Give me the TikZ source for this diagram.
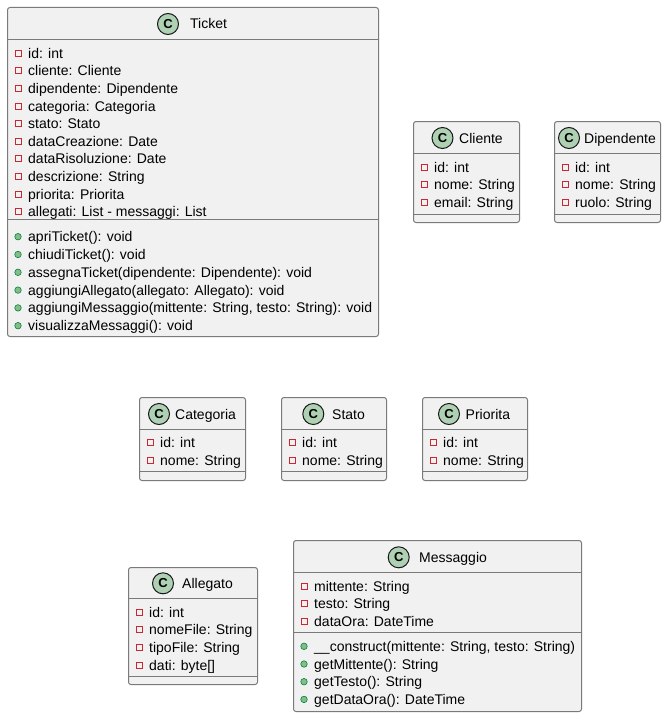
\documentclass[tikz,border=0pt]{standalone}
\usepackage{fontspec}
\setmainfont{Liberation Sans}
\definecolor{boxfill}{HTML}{F1F1F1}
\definecolor{boxline}{HTML}{7A7A7A}
\definecolor{spotfill}{HTML}{ADD1B2}
\definecolor{spotline}{HTML}{181818}
\definecolor{privred}{HTML}{C82930}
\definecolor{pubfill}{HTML}{84BE84}
\definecolor{publine}{HTML}{038048}
\tikzset{
  classbox/.style={draw=boxline, fill=boxfill, line width=1pt, rounded corners=2.5pt,
    anchor=north west, inner sep=0pt},
  sepline/.style={draw=boxline, line width=1pt},
  spot/.style={circle, draw=spotline, fill=spotfill, line width=1pt, minimum size=21pt,
    inner sep=0pt, font=\fontsize{13}{13}\selectfont\bfseries},
  rowtxt/.style={anchor=west, inner sep=0pt, text height=10pt, text depth=0pt,
    font=\fontsize{14}{16}\selectfont},
  privico/.style={draw=privred, line width=1pt, minimum size=6pt, inner sep=0pt},
  pubico/.style={circle, draw=publine, fill=pubfill, line width=0.6pt, minimum size=6.5pt, inner sep=0pt},
}
% attribute / method rows: name, left edge of class, y, text
\newcommand{\privrow}[4]{%
  \node[privico] (#1-i) at (#2+11,#3) {};
  \node[rowtxt] (#1) at (#2+21,#3) {#4};}
\newcommand{\pubrow}[4]{%
  \node[pubico] (#1-i) at (#2+11,#3) {};
  \node[rowtxt] (#1) at (#2+21,#3) {#4};}
% class header: name, spot x, name x, y, title
\newcommand{\classhead}[5]{%
  \node[spot] (#1-c) at (#2,#4) {C};
  \node[rowtxt] (#1-t) at (#3,#4) {#5};}
\begin{document}
\begin{tikzpicture}[x=1pt, y=-1pt]
\useasboundingbox (0,0) rectangle (666,717);

% ---------------- Ticket ----------------
\node[classbox, minimum width=371pt, minimum height=329pt] (ticket) at (7,7) {};
\draw[sepline] (7,39.5) -- (378,39.5);
\draw[sepline] (7,219) -- (378,219);
\classhead{ticket}{168}{190}{24}{Ticket}
\privrow{ta1}{7}{53.3}{id: int}
\privrow{ta2}{7}{70.9}{cliente: Cliente}
\privrow{ta3}{7}{88.5}{dipendente: Dipendente}
\privrow{ta4}{7}{106.1}{categoria: Categoria}
\privrow{ta5}{7}{123.7}{stato: Stato}
\privrow{ta6}{7}{141.3}{dataCreazione: Date}
\privrow{ta7}{7}{158.9}{dataRisoluzione: Date}
\privrow{ta8}{7}{176.5}{descrizione: String}
\privrow{ta9}{7}{194.1}{priorita: Priorita}
\privrow{ta10}{7}{211.7}{allegati: List - messaggi: List}
\pubrow{tm1}{7}{236.7}{apriTicket(): void}
\pubrow{tm2}{7}{254.5}{chiudiTicket(): void}
\pubrow{tm3}{7}{272.3}{assegnaTicket(dipendente: Dipendente): void}
\pubrow{tm4}{7}{290.1}{aggiungiAllegato(allegato: Allegato): void}
\pubrow{tm5}{7}{307.9}{aggiungiMessaggio(mittente: String, testo: String): void}
\pubrow{tm6}{7}{325.7}{visualizzaMessaggi(): void}

% ---------------- Cliente ----------------
\node[classbox, minimum width=106pt, minimum height=101pt] (cliente) at (413,121) {};
\draw[sepline] (413,153.3) -- (519,153.3);
\draw[sepline] (413,214.3) -- (519,214.3);
\classhead{cliente}{442.5}{459}{138}{Cliente}
\privrow{ca1}{413}{167.3}{id: int}
\privrow{ca2}{413}{184.8}{nome: String}
\privrow{ca3}{413}{202.3}{email: String}

% ---------------- Dipendente ----------------
\node[classbox, minimum width=106pt, minimum height=101pt] (dipendente) at (554,121) {};
\draw[sepline] (554,153.3) -- (660,153.3);
\draw[sepline] (554,214.3) -- (660,214.3);
\classhead{dipendente}{569}{584}{138}{Dipendente}
\privrow{da1}{554}{167.3}{id: int}
\privrow{da2}{554}{184.8}{nome: String}
\privrow{da3}{554}{202.3}{ruolo: String}

% ---------------- Categoria ----------------
\node[classbox, minimum width=106pt, minimum height=83pt] (categoria) at (139,397) {};
\draw[sepline] (139,429.3) -- (245,429.3);
\draw[sepline] (139,471.7) -- (245,471.7);
\classhead{categoria}{159}{175}{414}{Categoria}
\privrow{ka1}{139}{442.7}{id: int}
\privrow{ka2}{139}{460.2}{nome: String}

% ---------------- Stato ----------------
\node[classbox, minimum width=105pt, minimum height=83pt] (stato) at (281,397) {};
\draw[sepline] (281,429.3) -- (386,429.3);
\draw[sepline] (281,471.7) -- (386,471.7);
\classhead{stato}{313.3}{332}{414}{Stato}
\privrow{sa1}{281}{442.7}{id: int}
\privrow{sa2}{281}{460.2}{nome: String}

% ---------------- Priorita ----------------
\node[classbox, minimum width=105pt, minimum height=83pt] (priorita) at (422,397) {};
\draw[sepline] (422,429.3) -- (527,429.3);
\draw[sepline] (422,471.7) -- (527,471.7);
\classhead{priorita}{449}{465.5}{414}{Priorita}
\privrow{pa1}{422}{442.7}{id: int}
\privrow{pa2}{422}{460.2}{nome: String}

% ---------------- Allegato ----------------
\node[classbox, minimum width=129pt, minimum height=117pt] (allegato) at (128,567) {};
\draw[sepline] (128,598.3) -- (257,598.3);
\draw[sepline] (128,676.7) -- (257,676.7);
\classhead{allegato}{163}{182}{583.3}{Allegato}
\privrow{aa1}{128}{612.3}{id: int}
\privrow{aa2}{128}{629.9}{nomeFile: String}
\privrow{aa3}{128}{647.5}{tipoFile: String}
\privrow{aa4}{128}{665.1}{dati: byte[]}

% ---------------- Messaggio ----------------
\node[classbox, minimum width=288pt, minimum height=171pt] (messaggio) at (293,540) {};
\draw[sepline] (293,572.3) -- (581,572.3);
\draw[sepline] (293,632.7) -- (581,632.7);
\classhead{messaggio}{398.7}{419}{557.3}{Messaggio}
\privrow{ma1}{293}{586.5}{mittente: String}
\privrow{ma2}{293}{603.9}{testo: String}
\privrow{ma3}{293}{621.3}{dataOra: DateTime}
\pubrow{mm1}{293}{646.3}{\_\_construct(mittente: String, testo: String)}
\pubrow{mm2}{293}{664.0}{getMittente(): String}
\pubrow{mm3}{293}{681.7}{getTesto(): String}
\pubrow{mm4}{293}{699.4}{getDataOra(): DateTime}
\end{tikzpicture}
\end{document}
